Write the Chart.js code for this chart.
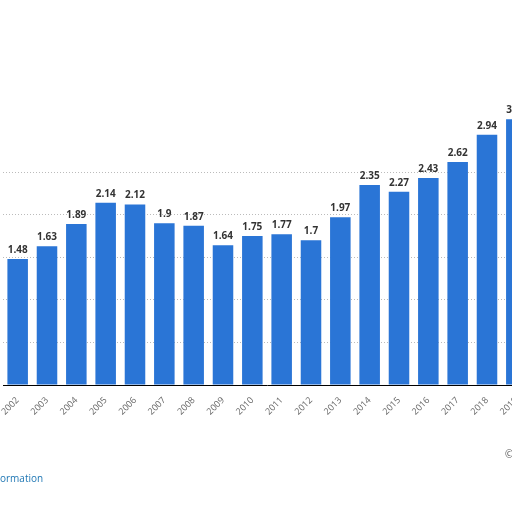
<!DOCTYPE html><html><head><script src="https://cdn.jsdelivr.net/npm/chart.js@4"></script>
<style>body{margin:0;background:#fff;overflow:hidden}canvas{position:absolute;left:0;top:0}</style></head><body><canvas id="c" width="531" height="512" style="width:531px;height:512px"></canvas>
<script>
const years=["2002","2003","2004","2005","2006","2007","2008","2009","2010","2011","2012","2013","2014","2015","2016","2017","2018","2019"];
const values=[1.48,1.63,1.89,2.14,2.12,1.9,1.87,1.64,1.75,1.77,1.7,1.97,2.35,2.27,2.43,2.62,2.94,3.12];
const labels=["1.48","1.63","1.89","2.14","2.12","1.9","1.87","1.64","1.75","1.77","1.7","1.97","2.35","2.27","2.43","2.62","2.94","3.12"];
const lbl={id:'lbl',afterDatasetsDraw(ch){const c=ch.ctx;const m=ch.getDatasetMeta(0);c.save();c.font='bold 10px "Open Sans"';c.fillStyle='#333';c.textAlign='center';c.textBaseline='bottom';
m.data.forEach((b,i)=>c.fillText(labels[i],b.x,b.y-4));
c.font='10px "Open Sans"';c.fillStyle='#1f77b4';c.textAlign='left';c.fillText('ormation',0,484);
c.fillStyle='#555';c.fillText('©',505,460);c.restore();}};
new Chart(document.getElementById('c'),{type:'bar',data:{labels:years,datasets:[{data:values,backgroundColor:'#2a75d6',barPercentage:0.7,categoryPercentage:1}]},
options:{responsive:false,animation:false,devicePixelRatio:1,layout:{padding:{left:3,right:0,top:87,bottom:0}},
plugins:{legend:{display:false},tooltip:{enabled:false}},
scales:{x:{grid:{display:false},border:{color:'#000'},ticks:{color:'#666',font:{size:9,family:'Open Sans'},minRotation:45,maxRotation:45,padding:2},afterFit(s){s.height=127}},
y:{display:true,min:0,max:3.5,ticks:{stepSize:0.5,display:false},border:{display:false,dash:[1,2]},grid:{color:c=>c.tick.value>0&&c.tick.value<=2.5?'#bbb':'transparent',drawTicks:false},afterFit(s){s.width=0}}}},plugins:[lbl]});
</script></body></html>
